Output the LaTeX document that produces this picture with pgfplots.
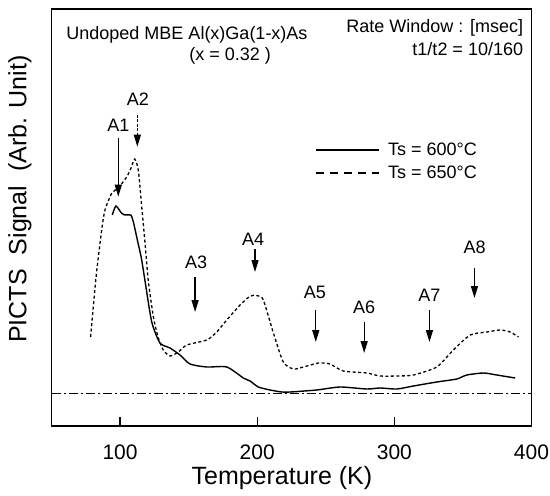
\documentclass[border=0pt]{standalone}
\usepackage{fontspec}
\setmainfont{Liberation Sans}
\usepackage{pgfplots}
\usepackage{pgfplotstable}
\pgfplotsset{compat=1.18}
\usetikzlibrary{arrows.meta}

% PICTS signal (arb. units, baseline at about 33)
\pgfplotstableread{
T S
94.3 211
97 220
101 213
103.6 211
107.8 211
109.7 204
112.6 186
115.5 168
118.2 145
123.1 104
129.1 83
136.4 78
143.7 71
151 62
163.2 59
177.8 59
189.9 48
194.8 45
200.8 39
209.4 36
218 34
224 34
243.4 36
260.4 39
279.9 37
289.6 38
301.8 37
313.9 40
330.9 44
345.5 47
352.8 51
365 53
374.7 51
388.1 48
}\tssix

\pgfplotstableread{
T S
78.5 89
82.5 149
86.6 196
89 216
94 233
98.7 238
104.8 249
108 258
110.6 267
113.3 256
115.8 219
118.2 183
120.6 145
124.3 109
127.9 88
131.5 76
136.4 70
142.5 74
148.6 81
163.2 86
170.5 94
177.8 106
187.5 121
194 129
198.4 131
201 130
204.5 126
211.8 93
219 64
226.4 57
233.7 59
244.6 63
253.1 62
262.8 55
279.9 53
289.6 50
301.8 50
313.9 51
330.9 59
343 76
355.3 91
367.4 94
377.1 96
384.4 94
390.5 89
}\tssixfifty

\newcommand{\ann}{\fontsize{18}{21}\selectfont}

\begin{document}
\begin{tikzpicture}
\begin{axis}[
    scale only axis,
    width=480pt, height=417pt,
    xmin=50, xmax=400, ymin=0, ymax=417,
    xtick={100,200,300,400},
    ytick=\empty,
    xtick pos=bottom,
    tick align=inside,
    major tick length=9pt,
    axis line style={line width=1.3pt},
    every tick/.style={black, line width=1.3pt},
    /pgf/number format/assume math mode=true,
    tick label style={font=\fontsize{21}{25}\selectfont},
    xticklabel style={yshift=-15pt},
    xlabel={Temperature (K)},
    ylabel={PICTS\ \ Signal\ \ (Arb. Unit)},
    every axis x label/.style={at={(axis description cs:0.48,-0.125)}, anchor=center,
        font=\fontsize{25}{30}\selectfont},
    every axis y label/.style={at={(axis description cs:-0.066,0.544)}, anchor=center, rotate=90,
        font=\fontsize{25}{30}\selectfont},
    legend image code/.code={\draw[#1] (0pt,0pt) -- (63pt,0pt);},
    legend style={draw=none, fill=none, inner sep=0pt, row sep=5pt,
        nodes={inner sep=2pt}, column sep=7pt,
        font=\ann, at={(axis cs:242,264.5)}, anchor=west},
    legend cell align=left,
    clip=false,
]
\addlegendimage{black, line width=1.2pt}
\addlegendentry{Ts = 600°C}
\addlegendimage{black, line width=1.2pt, dash pattern=on 8pt off 6pt}
\addlegendentry{Ts = 650°C}

\addplot[black, line width=0.9pt, dash pattern=on 9pt off 3pt on 2pt off 3pt, forget plot]
    coordinates {(50,33) (400,33)};
\addplot[black, line width=1.4pt, smooth, tension=0.4, forget plot] table[x=T, y=S] {\tssix};
\addplot[black, line width=1.3pt, smooth, tension=0.4, dash pattern=on 3pt off 2.5pt, forget plot] table[x=T, y=S] {\tssixfifty};

% peak markers
\draw[line width=1.3pt, -{Triangle[length=12pt, width=7pt]}] (axis cs:98.7,287.7) -- (axis cs:98.7,229.3);
\draw[line width=1.3pt, dash pattern=on 3pt off 1.5pt, -{Triangle[length=12pt, width=7pt]}] (axis cs:112.6,311) -- (axis cs:112.6,279.3);
\draw[line width=1.3pt, -{Triangle[length=12pt, width=7pt]}] (axis cs:154.7,149) -- (axis cs:154.7,114);
\draw[line width=1.3pt, -{Triangle[length=12pt, width=7pt]}] (axis cs:198.4,177) -- (axis cs:198.4,154);
\draw[line width=1.3pt, -{Triangle[length=12pt, width=7pt]}] (axis cs:242.7,116) -- (axis cs:242.7,84);
\draw[line width=1.3pt, -{Triangle[length=12pt, width=7pt]}] (axis cs:278,104) -- (axis cs:278,73);
\draw[line width=1.3pt, -{Triangle[length=12pt, width=7pt]}] (axis cs:325.6,116) -- (axis cs:325.6,84);
\draw[line width=1.3pt, -{Triangle[length=12pt, width=7pt]}] (axis cs:358.4,158) -- (axis cs:358.4,128);

\node[font=\ann] at (axis cs:98.7,301) {A1};
\node[font=\ann] at (axis cs:113,327) {A2};
\node[font=\ann] at (axis cs:155.5,164) {A3};
\node[font=\ann] at (axis cs:197,187) {A4};
\node[font=\ann] at (axis cs:242,134) {A5};
\node[font=\ann] at (axis cs:278,119) {A6};
\node[font=\ann] at (axis cs:325.5,131) {A7};
\node[font=\ann] at (axis cs:358.5,179) {A8};

\node[font=\ann] at (axis cs:148.8,391) {Undoped MBE Al(x)Ga(1-x)As};
\node[font=\ann] at (axis cs:180.2,370) {(x = 0.32 )};
\node[font=\ann, anchor=east, inner sep=0pt] at (axis cs:394,398) {Rate Window : [msec]};
\node[font=\ann, anchor=east, inner sep=0pt] at (axis cs:394,377) {t1/t2 = 10/160};
\end{axis}
\pgfresetboundingbox
\path[use as bounding box] ([shift={(-51.5pt,-69pt)}]current axis.south west) rectangle ([shift={(18.5pt,9pt)}]current axis.north east);
\end{tikzpicture}
\end{document}
